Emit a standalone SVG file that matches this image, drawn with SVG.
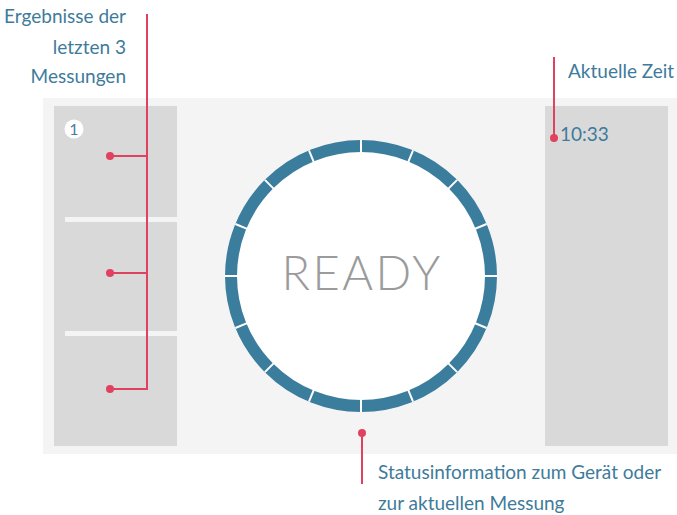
<svg xmlns="http://www.w3.org/2000/svg" width="677" height="515" viewBox="0 0 677 515">
<style>
.lbl{font-family:Lato,"Open Sans",sans-serif;font-size:19px;fill:#3e7b9b}
.red{stroke:#e0415f;stroke-width:2;fill:none}
.dot{fill:#e0415f}
.box{fill:#d9d9d9}
</style>
<rect x="0" y="0" width="677" height="515" fill="#ffffff"/>
<g id="panel">
<rect x="43" y="98" width="634" height="356" fill="#f4f4f4"/>
</g>
<g id="left-results">
<rect class="box" x="54" y="106" width="123" height="340"/>
<rect x="65" y="217" width="112" height="5" fill="#f4f4f4"/>
<rect x="65" y="331" width="112" height="5" fill="#f4f4f4"/>
<circle cx="74" cy="129" r="9.5" fill="#ffffff"/>
<text x="74" y="135" text-anchor="middle" font-family="Lato,sans-serif" font-size="16" fill="#4a7f99">1</text>
</g>
<g id="right-time">
<rect class="box" x="545" y="106" width="123" height="340"/>
<text x="560" y="141" font-family="Lato,sans-serif" font-size="19" fill="#3e7b9b">10:33</text>
</g>
<g id="status-ring">
<circle cx="361" cy="276" r="124" fill="#ffffff"/>
<circle cx="361" cy="276" r="130" fill="none" stroke="#3a7d9c" stroke-width="12"/>
<g stroke="#ffffff" stroke-width="2">
<line x1="361" y1="276" x2="361" y2="140" transform="rotate(0 361 276)"/>
<line x1="361" y1="276" x2="361" y2="140" transform="rotate(22.5 361 276)"/>
<line x1="361" y1="276" x2="361" y2="140" transform="rotate(45 361 276)"/>
<line x1="361" y1="276" x2="361" y2="140" transform="rotate(67.5 361 276)"/>
<line x1="361" y1="276" x2="361" y2="140" transform="rotate(90 361 276)"/>
<line x1="361" y1="276" x2="361" y2="140" transform="rotate(112.5 361 276)"/>
<line x1="361" y1="276" x2="361" y2="140" transform="rotate(135 361 276)"/>
<line x1="361" y1="276" x2="361" y2="140" transform="rotate(157.5 361 276)"/>
<line x1="361" y1="276" x2="361" y2="140" transform="rotate(180 361 276)"/>
<line x1="361" y1="276" x2="361" y2="140" transform="rotate(202.5 361 276)"/>
<line x1="361" y1="276" x2="361" y2="140" transform="rotate(225 361 276)"/>
<line x1="361" y1="276" x2="361" y2="140" transform="rotate(247.5 361 276)"/>
<line x1="361" y1="276" x2="361" y2="140" transform="rotate(270 361 276)"/>
<line x1="361" y1="276" x2="361" y2="140" transform="rotate(292.5 361 276)"/>
<line x1="361" y1="276" x2="361" y2="140" transform="rotate(315 361 276)"/>
<line x1="361" y1="276" x2="361" y2="140" transform="rotate(337.5 361 276)"/>
</g>
<circle cx="361" cy="276" r="123" fill="#ffffff"/>
<text x="362" y="290" text-anchor="middle" font-family="Lato,sans-serif" font-weight="300" font-size="47" letter-spacing="2.5" fill="#9b9b9b">READY</text>
</g>
<g id="label-results">
<text class="lbl" text-anchor="end"><tspan x="126" y="23">Ergebnisse der</tspan><tspan x="126" y="54">letzten 3</tspan><tspan x="126" y="83">Messungen</tspan></text>
</g>
<g id="label-time">
<text class="lbl" x="568" y="78">Aktuelle Zeit</text>
</g>
<g id="label-status">
<text class="lbl"><tspan x="378" y="479">Statusinformation zum Gerät oder</tspan><tspan x="378" y="510">zur aktuellen Messung</tspan></text>
</g>
<g id="connectors">
<path class="red" d="M147 14 V389 H110 M147 156 H110 M147 273 H110"/>
<circle class="dot" cx="110" cy="156" r="4"/>
<circle class="dot" cx="110" cy="273" r="4"/>
<circle class="dot" cx="110" cy="389" r="4"/>
<path class="red" d="M554 57 V138"/>
<circle class="dot" cx="554" cy="138" r="4"/>
<path class="red" d="M362 433 V484"/>
<circle class="dot" cx="362" cy="433" r="4"/>
</g>
</svg>
